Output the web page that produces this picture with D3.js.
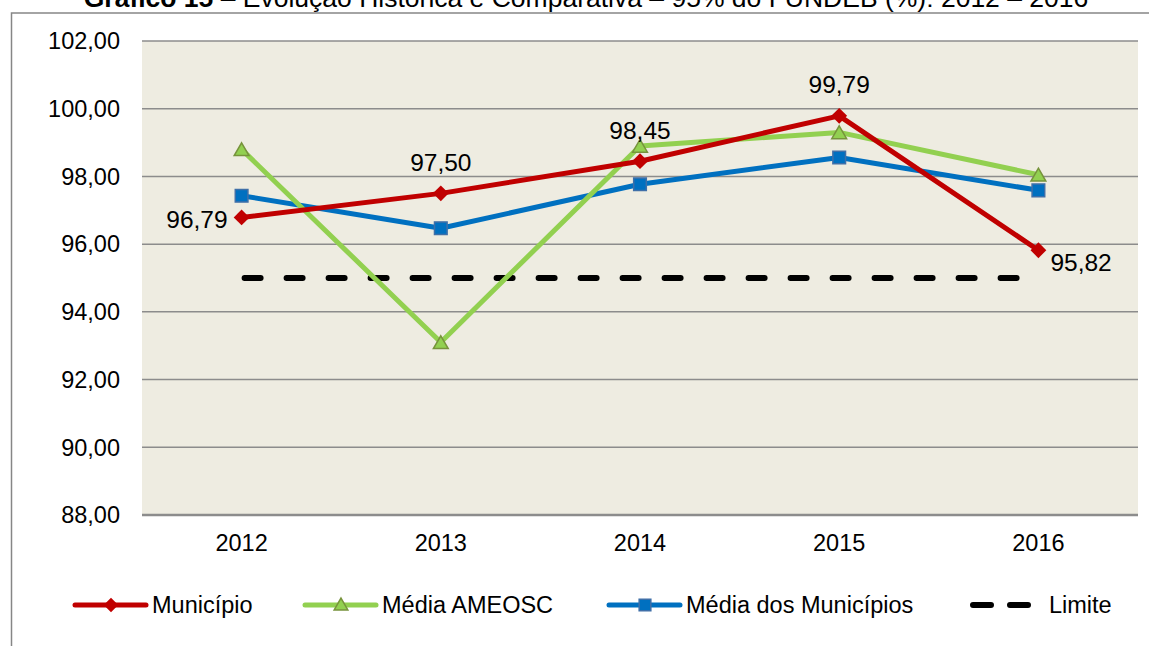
<!DOCTYPE html>
<html>
<head>
<meta charset="utf-8">
<script src="https://cdn.jsdelivr.net/npm/d3@7"></script>
<style>
  body { margin: 0; background: #fff; }
  svg { font-family: "Liberation Sans", Arial, sans-serif; }
</style>
</head>
<body>
<script>
// values
const years = ['2012', '2013', '2014', '2015', '2016'];
const municipio = [96.79, 97.50, 98.45, 99.79, 95.82];
const mediaAmeosc = [98.80, 93.10, 98.90, 99.30, 98.05];
const mediaMunicipios = [97.43, 96.47, 97.77, 98.56, 97.59];
const limite = [95, 95, 95, 95, 95];
const yTicks = [88, 90, 92, 94, 96, 98, 100, 102];
const labelSide = ['left', 'above', 'above', 'above', 'right'];

const width = 1149;
const height = 646;
const margin = {top: 41, right: 11, bottom: 131, left: 142};
const fontSize = '23.5px';

const svg = d3.select('body')
  .append('svg')
  .attr('width', width)
  .attr('height', height);

// outer frame
svg.append('rect')
  .attr('x', 11.5).attr('y', 13)
  .attr('width', 1160).attr('height', 660)
  .attr('fill', 'none')
  .attr('stroke', '#868686')
  .attr('stroke-width', 1.5);

// title (cut off at top, as in source)
const title = svg.append('text')
  .attr('x', 586).attr('y', 7)
  .attr('text-anchor', 'middle')
  .style('font-size', '26.5px')
  .attr('fill', '#000');
title.append('tspan').style('font-weight', 'bold').text('Gráfico 15');
title.append('tspan').text(' – Evolução Histórica e Comparativa – 95% do FUNDEB (%): 2012 – 2016');

const x = d3.scaleBand()
  .domain(years)
  .range([margin.left, width - margin.right])
  .padding(0);

const y = d3.scaleLinear()
  .domain([88, 102])
  .range([height - margin.bottom, margin.top]);

const cx = d => x(d) + x.bandwidth() / 2;

// plot background
svg.append('rect')
  .attr('x', margin.left).attr('y', y(102))
  .attr('width', x.range()[1] - margin.left)
  .attr('height', y(88) - y(102))
  .attr('fill', '#EEECE1');

// gridlines
svg.append('g')
  .selectAll('line')
  .data(yTicks)
  .enter()
  .append('line')
  .attr('x1', margin.left).attr('x2', x.range()[1])
  .attr('y1', d => y(d)).attr('y2', d => y(d))
  .attr('stroke', '#8C8C8C')
  .attr('stroke-width', d => d === 88 ? 2.5 : 1.5);

// y axis labels
const fmt = v => d3.format('.2f')(v).replace('.', ',');
svg.append('g')
  .selectAll('text')
  .data(yTicks)
  .enter()
  .append('text')
  .attr('x', 120)
  .attr('y', d => y(d))
  .attr('dy', '0.35em')
  .attr('text-anchor', 'end')
  .style('font-size', fontSize)
  .text(d => fmt(d));

// x axis labels
svg.append('g')
  .selectAll('text')
  .data(years)
  .enter()
  .append('text')
  .attr('x', d => cx(d))
  .attr('y', 551)
  .attr('text-anchor', 'middle')
  .style('font-size', fontSize)
  .text(d => d);

const line = d3.line()
  .x((d, i) => cx(years[i]))
  .y(d => y(d));

// limit (dashed)
svg.append('path')
  .datum(limite)
  .attr('d', line)
  .attr('fill', 'none')
  .attr('stroke', '#000')
  .attr('stroke-width', 6)
  .attr('stroke-linecap', 'round')
  .attr('stroke-dasharray', '16,26')
  .attr('stroke-dashoffset', -3);

const series = [
  {name: 'Município', values: municipio, color: '#C00000', marker: 'diamond', fill: '#C00000', stroke: '#C00000', size: 125},
  {name: 'Média AMEOSC', values: mediaAmeosc, color: '#92D050', marker: 'triangle', fill: '#92D050', stroke: '#77933C', size: 95},
  {name: 'Média dos Municípios', values: mediaMunicipios, color: '#0070C0', marker: 'square', fill: '#0070C0', stroke: '#3F6FA8', size: 160}
];

function markerPath(type, size) {
  const t = type === 'triangle' ? d3.symbolTriangle : d3.symbolSquare;
  return d3.symbol().type(t).size(size)();
}
function markerTransform(type, px, py) {
  if (type === 'diamond') return `translate(${px},${py}) rotate(45)`;
  if (type === 'triangle') return `translate(${px},${py + 2})`;
  return `translate(${px},${py})`;
}

// draw in order so red sits on top
[series[2], series[1], series[0]].forEach(s => {
  svg.append('path')
    .datum(s.values)
    .attr('d', line)
    .attr('fill', 'none')
    .attr('stroke', s.color)
    .attr('stroke-width', 5)
    .attr('stroke-linejoin', 'round');

  svg.append('g')
    .selectAll('path')
    .data(s.values)
    .enter()
    .append('path')
    .attr('transform', (d, i) => markerTransform(s.marker, cx(years[i]), y(d)))
    .attr('d', markerPath(s.marker, s.size))
    .attr('fill', s.fill)
    .attr('stroke', s.stroke)
    .attr('stroke-width', s.marker === 'diamond' ? 0 : 1.5);
});

// data labels for Município
svg.append('g')
  .selectAll('text')
  .data(municipio)
  .enter()
  .append('text')
  .attr('x', (d, i) => {
    const px = cx(years[i]);
    if (labelSide[i] === 'left') return px - 14;
    if (labelSide[i] === 'right') return px + 12;
    return px;
  })
  .attr('y', (d, i) => {
    const py = y(d);
    if (labelSide[i] === 'above') return py - 31;
    if (labelSide[i] === 'right') return py + 12;
    return py + 2;
  })
  .attr('dy', '0.35em')
  .attr('text-anchor', (d, i) => labelSide[i] === 'left' ? 'end' : labelSide[i] === 'right' ? 'start' : 'middle')
  .style('font-size', '24.5px')
  .text(d => fmt(d));

// legend
const legendY = 605;
const legendItems = [
  {s: series[0], x: 75},
  {s: series[1], x: 305},
  {s: series[2], x: 609}
];
legendItems.forEach(it => {
  const g = svg.append('g');
  g.append('line')
    .attr('x1', it.x).attr('x2', it.x + 71)
    .attr('y1', legendY).attr('y2', legendY)
    .attr('stroke', it.s.color)
    .attr('stroke-width', 5)
    .attr('stroke-linecap', 'round');
  g.append('path')
    .attr('transform', markerTransform(it.s.marker, it.x + 36, legendY - (it.s.marker === 'triangle' ? 1 : 0)))
    .attr('d', markerPath(it.s.marker, it.s.size * 0.85))
    .attr('fill', it.s.fill)
    .attr('stroke', it.s.stroke)
    .attr('stroke-width', it.s.marker === 'diamond' ? 0 : 1.5);
  g.append('text')
    .attr('x', it.x + 77)
    .attr('y', legendY)
    .attr('dy', '0.35em')
    .style('font-size', fontSize)
    .text(it.s.name);
});

// Limite legend
svg.append('line')
  .attr('x1', 973).attr('x2', 1033)
  .attr('y1', legendY).attr('y2', legendY)
  .attr('stroke', '#000')
  .attr('stroke-width', 6)
  .attr('stroke-linecap', 'round')
  .attr('stroke-dasharray', '18,19');
svg.append('text')
  .attr('x', 1049)
  .attr('y', legendY)
  .attr('dy', '0.35em')
  .style('font-size', fontSize)
  .text('Limite');
</script>
</body>
</html>
